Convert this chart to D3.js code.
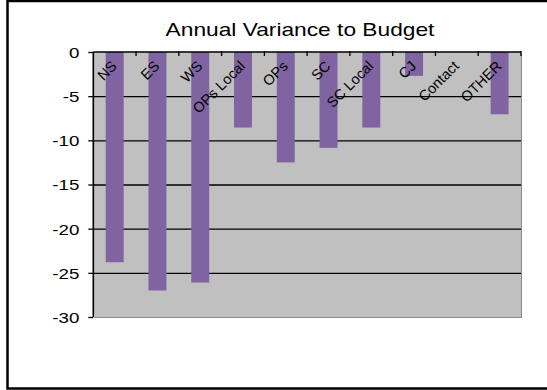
<!DOCTYPE html>
<html>
<head>
<meta charset="utf-8">
<script src="https://cdn.jsdelivr.net/npm/d3@7/dist/d3.min.js"></script>
<style>
  html, body { margin: 0; padding: 0; background: #fff; }
  svg { display: block; }
  text { font-family: Arial, "Liberation Sans", sans-serif; fill: #000; }
</style>
</head>
<body>
<script>
// Annual variance to budget by area
const categories = ["NS", "ES", "WS", "OPs Local", "OPs", "SC", "SC Local", "CJ", "Contact", "OTHER"];
const variance = [-23.8, -27.0, -26.1, -8.55, -12.5, -10.85, -8.55, -2.7, 0, -7.05];
const yTicks = [0, -5, -10, -15, -20, -25, -30];
const title = "Annual Variance to Budget";

const W = 547, H = 390;
const plot = { left: 93.3, right: 521, top: 52, bottom: 317 };
const stretch = 1.25; // wide glyphs

const svg = d3.select("body").append("svg")
  .attr("width", W).attr("height", H);

// outer chart frame
svg.append("rect")
  .attr("x", 7.5).attr("y", 1).attr("width", 560).attr("height", 387.5)
  .attr("fill", "#fff").attr("stroke", "#000").attr("stroke-width", 2.5);

const x = d3.scaleBand()
  .domain(categories)
  .range([plot.left, plot.right])
  .paddingInner(0.58)
  .paddingOuter(0.29);

const y = d3.scaleLinear()
  .domain([-30, 0])
  .range([plot.bottom, plot.top]);

// plot area with a grey shadowed edge on right and bottom
svg.append("rect")
  .attr("x", plot.left + 1).attr("y", plot.top + 1)
  .attr("width", plot.right - plot.left).attr("height", plot.bottom - plot.top)
  .attr("fill", "#8a8a8a");
svg.append("rect")
  .attr("x", plot.left).attr("y", plot.top)
  .attr("width", plot.right - plot.left).attr("height", plot.bottom - plot.top)
  .attr("fill", "#c0c0c0");

// horizontal gridlines
const grid = svg.append("g")
  .attr("transform", `translate(${plot.left},0)`)
  .call(d3.axisLeft(y).tickValues(yTicks.filter(v => v !== 0 && v !== -30))
    .tickSize(-(plot.right - plot.left)).tickFormat(""));
grid.select(".domain").remove();
grid.selectAll(".tick line").attr("stroke", "#000").attr("stroke-width", 1.3);

// bars
svg.append("g").selectAll("rect")
  .data(categories.map((c, i) => ({ c, v: variance[i] })))
  .join("rect")
  .attr("x", d => x(d.c))
  .attr("y", d => y(0))
  .attr("width", x.bandwidth())
  .attr("height", d => y(d.v) - y(0))
  .attr("fill", "#8064a2");

// category axis along zero line, ticks between categories
const step = x.step();
const x0 = plot.left;
svg.append("line")
  .attr("x1", plot.left).attr("x2", plot.right)
  .attr("y1", y(0)).attr("y2", y(0))
  .attr("stroke", "#000").attr("stroke-width", 1.6);
svg.append("g").selectAll("line")
  .data(d3.range(1, categories.length + 1))
  .join("line")
  .attr("x1", i => x0 + i * step).attr("x2", i => x0 + i * step)
  .attr("y1", y(0) - 1).attr("y2", y(0) + 4)
  .attr("stroke", "#000").attr("stroke-width", 1.3);

// category labels, rotated
svg.append("g").selectAll("text")
  .data(categories)
  .join("text")
  .attr("transform", c => `translate(${x(c) + x.bandwidth() / 2 + 3},${y(0) + 15}) rotate(-45)`)
  .attr("text-anchor", "end")
  .style("font-size", "14.5px")
  .text(c => c);

// value axis
const yAxis = svg.append("g")
  .attr("transform", `translate(${plot.left},0)`)
  .call(d3.axisLeft(y).tickValues(yTicks).tickSize(5).tickPadding(0).tickFormat(d => String(d)));
yAxis.select(".domain").attr("stroke", "#000").attr("stroke-width", 1.6)
  .attr("d", `M0,${plot.top}V${plot.bottom}`);
yAxis.selectAll(".tick line").attr("stroke", "#000").attr("stroke-width", 1.3);
yAxis.selectAll(".tick text")
  .attr("x", -14 / stretch)
  .attr("dy", "0.36em")
  .attr("transform", `scale(${stretch},1)`)
  .style("font-size", "15px")
  .style("font-family", "Arial, 'Liberation Sans', sans-serif")
  .attr("fill", "#000");

// title
svg.append("text")
  .attr("transform", `translate(300,36) scale(${1.3},1)`)
  .attr("text-anchor", "middle")
  .style("font-size", "17.5px")
  .text(title);
</script>
</body>
</html>
